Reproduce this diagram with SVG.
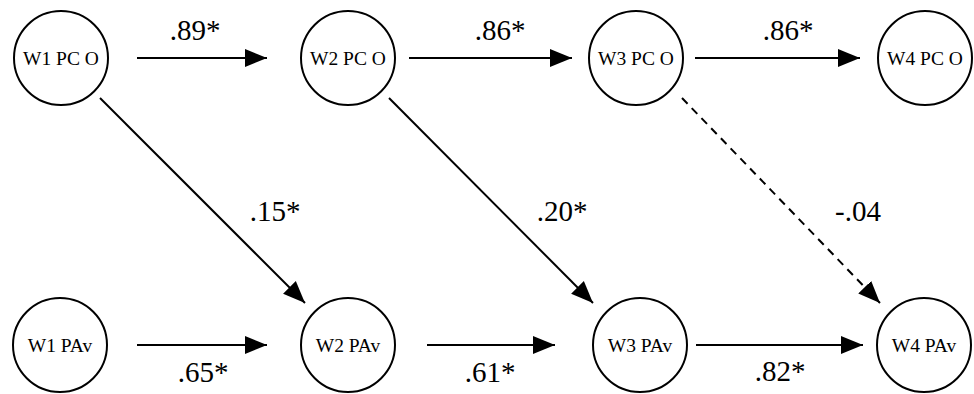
<svg xmlns="http://www.w3.org/2000/svg" width="974" height="394" viewBox="0 0 974 394">
<style>
.n{fill:#fff;stroke:#000;stroke-width:2}
text{font-family:'Liberation Serif','Times New Roman','DejaVu Serif',serif;text-anchor:middle;fill:#000}
.t{font-size:19.5px}
.l{font-size:29px}
.c{stroke:#000;stroke-width:2;fill:none;marker-end:url(#a)}
.d{stroke-dasharray:8,6}
</style>
<defs>
<marker id="a" markerUnits="userSpaceOnUse" markerWidth="24" markerHeight="20" refX="22" refY="9" orient="auto" viewBox="0 0 24 18">
<path d="M0,0 L22,9 L0,18 z" fill="#000"/>
</marker>
</defs>
<g id="connectors">
<line class="c" x1="137" y1="58" x2="267" y2="58"/>
<line class="c" x1="409" y1="58" x2="572" y2="58"/>
<line class="c" x1="695" y1="58" x2="860" y2="58"/>
<line class="c" x1="137" y1="345" x2="267" y2="345"/>
<line class="c" x1="427" y1="345" x2="555" y2="345"/>
<line class="c" x1="696" y1="345" x2="863" y2="345"/>
<line class="c" x1="100" y1="98" x2="305" y2="303"/>
<line class="c" x1="389" y1="98" x2="593" y2="303"/>
<line class="c d" x1="682" y1="98" x2="880" y2="303"/>
<g font-family="Liberation Serif, serif">
<text class="l" x="195" y="40">.89*</text>
<text class="l" x="500" y="40">.86*</text>
<text class="l" x="788" y="40">.86*</text>
<text class="l" x="275" y="221">.15*</text>
<text class="l" x="562" y="221">.20*</text>
<text class="l" x="858" y="221">-.04</text>
<text class="l" x="203" y="382">.65*</text>
<text class="l" x="490" y="382">.61*</text>
<text class="l" x="780" y="381">.82*</text>
</g>
</g>
<g id="w1pco"><circle class="n" cx="61" cy="58" r="47"/><text class="t" x="61" y="65">W1 PC O</text></g>
<g id="w2pco"><circle class="n" cx="348" cy="58" r="47"/><text class="t" x="348" y="65">W2 PC O</text></g>
<g id="w3pco"><circle class="n" cx="636" cy="58" r="47"/><text class="t" x="636" y="65">W3 PC O</text></g>
<g id="w4pco"><circle class="n" cx="925" cy="58" r="47"/><text class="t" x="925" y="65">W4 PC O</text></g>
<g id="w1pav"><circle class="n" cx="60" cy="345" r="47"/><text class="t" x="60" y="352">W1 PAv</text></g>
<g id="w2pav"><circle class="n" cx="348" cy="345" r="47"/><text class="t" x="348" y="352">W2 PAv</text></g>
<g id="w3pav"><circle class="n" cx="640" cy="345" r="47"/><text class="t" x="640" y="352">W3 PAv</text></g>
<g id="w4pav"><circle class="n" cx="924" cy="345" r="47"/><text class="t" x="924" y="352">W4 PAv</text></g>
</svg>
